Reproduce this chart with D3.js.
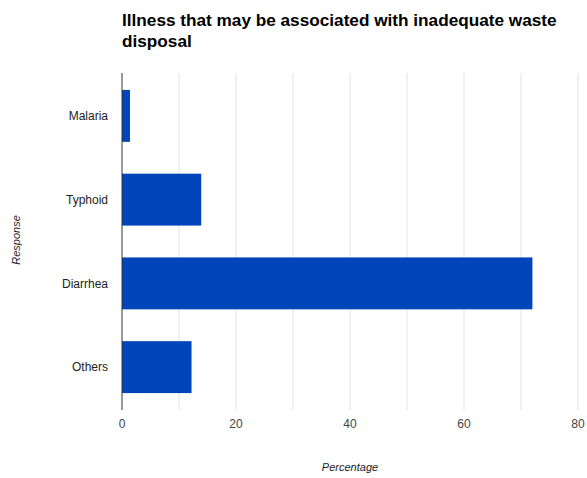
<!DOCTYPE html>
<html><head><meta charset="utf-8">
<script src="https://cdn.jsdelivr.net/npm/d3@7"></script>
<style>body{margin:0;background:#fff;} svg{display:block;font-family:"Liberation Sans",Arial,sans-serif;}</style>
</head><body>
<svg id="c" width="587" height="478"></svg>
<script>
const categories = ["Malaria", "Typhoid", "Diarrhea", "Others"];
const values = [1.4, 13.9, 72.0, 12.2];
const xTicks = [0, 20, 40, 60, 80];
const gridTicks = [10, 20, 30, 40, 50, 60, 70, 80];
const titleLines = ["Illness that may be associated with inadequate waste", "disposal"];

const svg = d3.select("#c");
const x = d3.scaleLinear().domain([0, 80]).range([122, 578]);
const y = d3.scaleBand().domain(categories).range([74, 409]).paddingInner(0.38).paddingOuter(0.19);

svg.append("g").selectAll("line").data(gridTicks).join("line")
  .attr("x1", d => x(d)).attr("x2", d => x(d))
  .attr("y1", 73).attr("y2", 410)
  .attr("stroke", "#e2e2e2").attr("stroke-width", 1);

svg.append("g").selectAll("rect").data(categories).join("rect")
  .attr("x", x(0)).attr("y", d => y(d))
  .attr("width", (d, i) => x(values[i]) - x(0))
  .attr("height", y.bandwidth())
  .attr("fill", "#0045b9");

svg.append("line").attr("x1", x(0)).attr("x2", x(0)).attr("y1", 73).attr("y2", 410)
  .attr("stroke", "#333").attr("stroke-width", 1);

svg.append("g").selectAll("text").data(xTicks).join("text")
  .attr("x", d => x(d)).attr("y", 428).attr("text-anchor", "middle")
  .attr("font-size", 12).attr("fill", "#444").text(d => d);

svg.append("g").selectAll("text").data(categories).join("text")
  .attr("x", 108).attr("y", d => y(d) + y.bandwidth() / 2).attr("dy", "0.35em")
  .attr("text-anchor", "end").attr("font-size", 12).attr("fill", "#222").text(d => d);

svg.append("g").selectAll("text").data(titleLines).join("text")
  .attr("x", 122).attr("y", (d, i) => 26 + i * 21)
  .attr("font-size", 17.2).attr("font-weight", "bold").attr("fill", "#000").text(d => d);

svg.append("text").attr("x", 350).attr("y", 471).attr("text-anchor", "middle")
  .attr("font-size", 11).attr("font-style", "italic").attr("fill", "#222").text("Percentage");

svg.append("text").attr("transform", "translate(20,240) rotate(-90)").attr("text-anchor", "middle")
  .attr("font-size", 11).attr("font-style", "italic").attr("fill", "#222").text("Response");
</script>
</body></html>
